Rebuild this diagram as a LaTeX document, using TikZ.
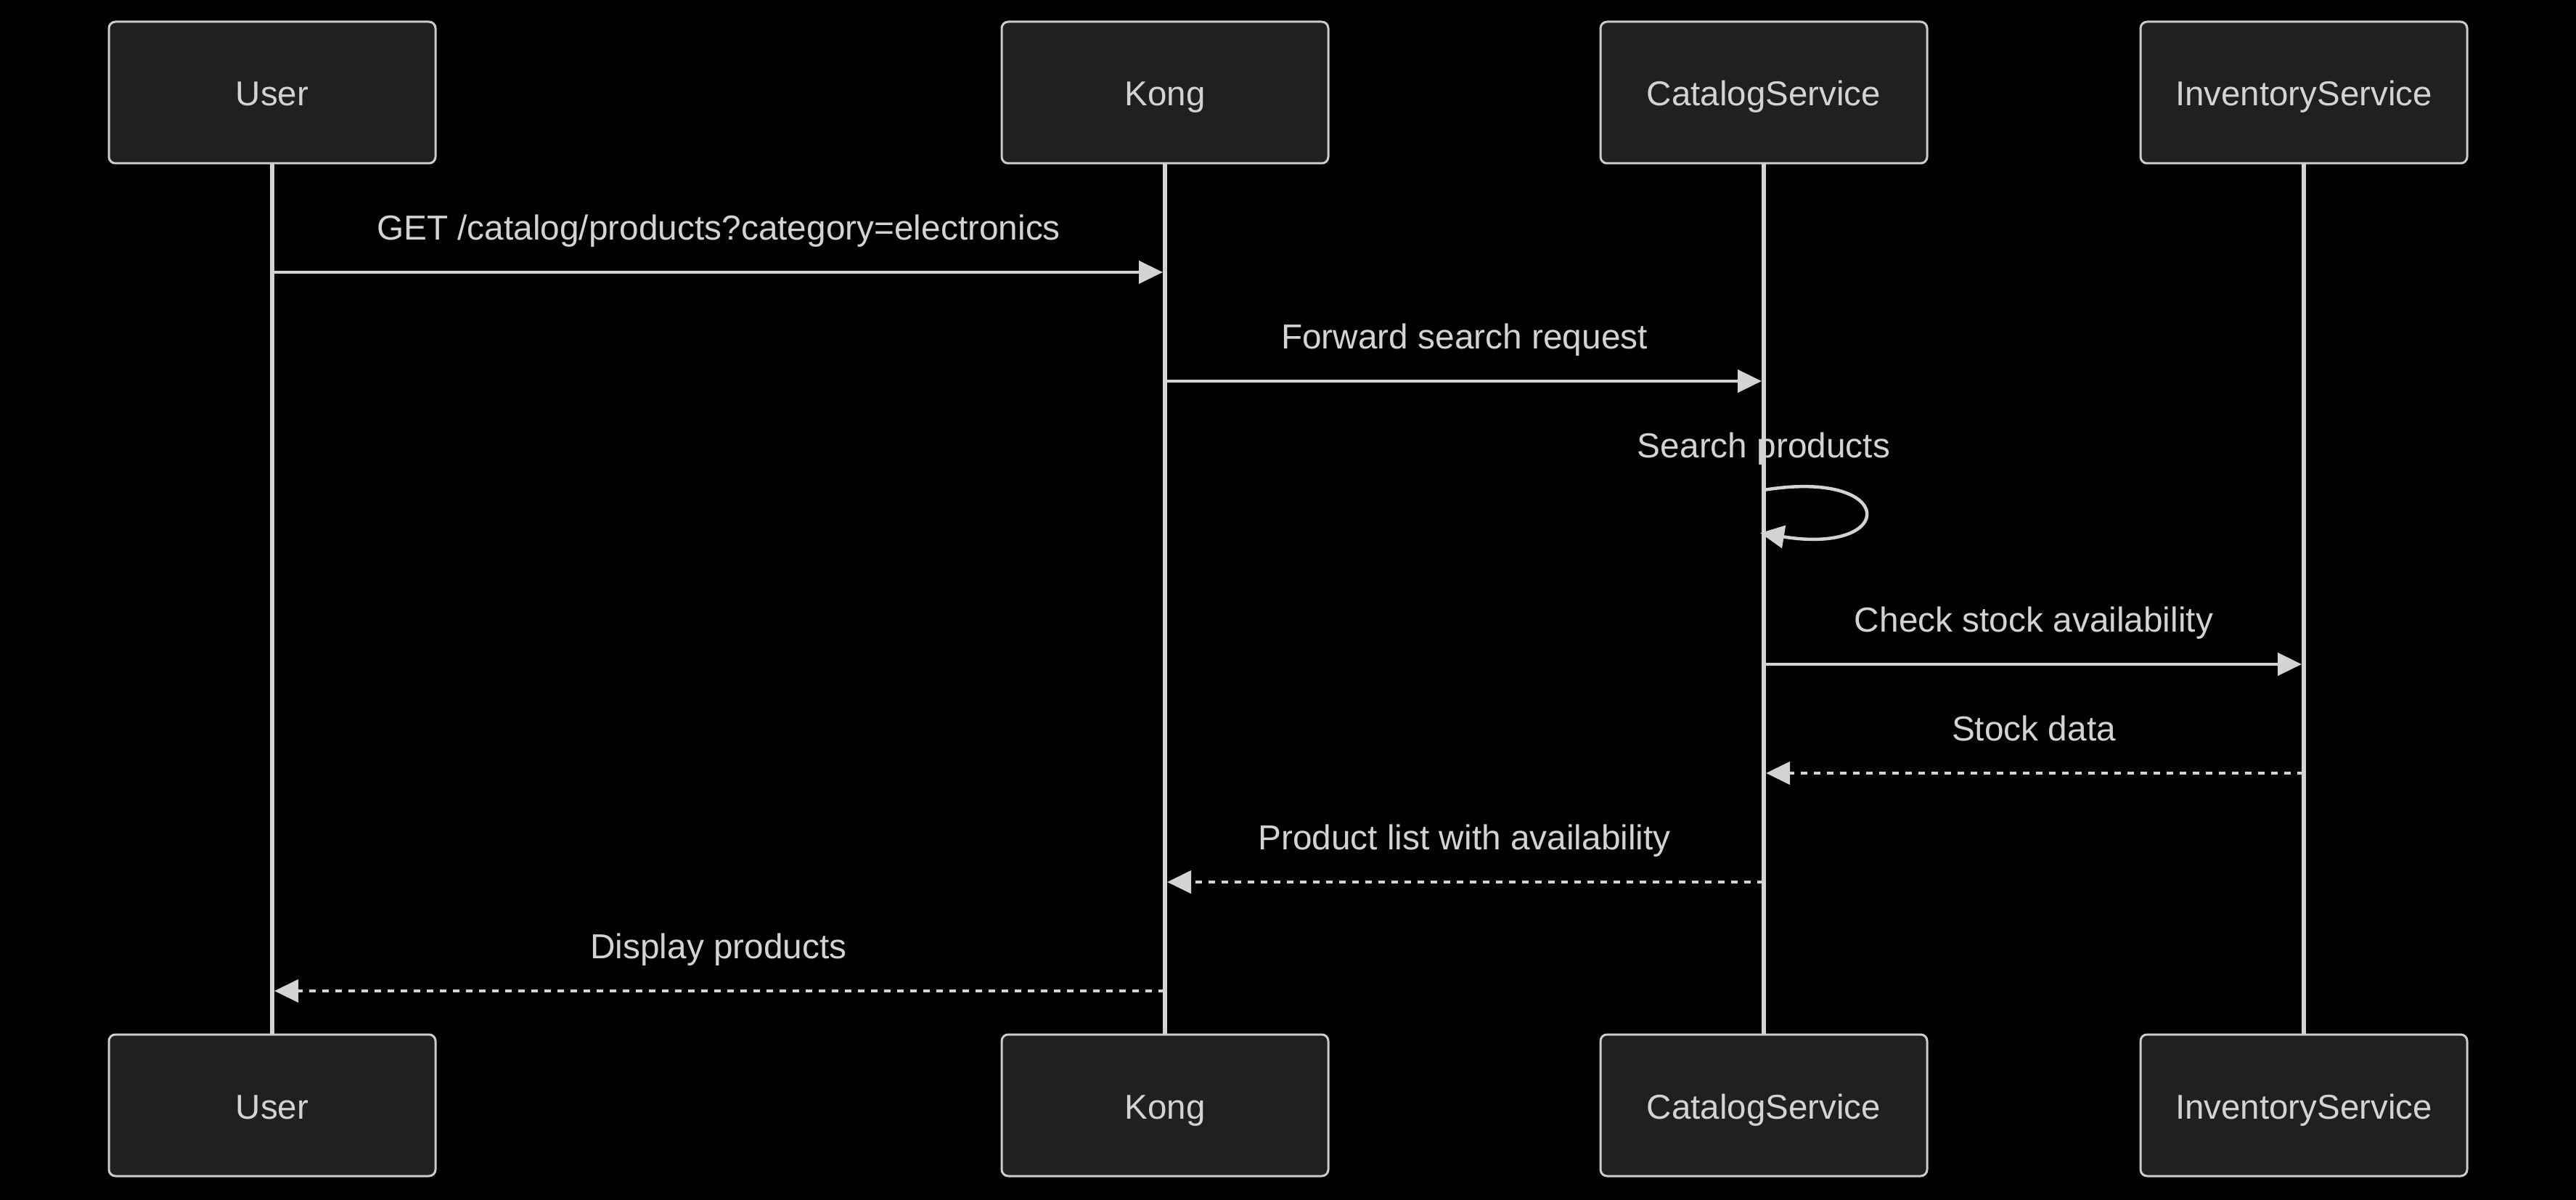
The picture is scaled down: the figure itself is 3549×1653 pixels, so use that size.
\documentclass[tikz,border=0pt]{standalone}
\usepackage{fontspec}
\setmainfont{Liberation Sans}
\usetikzlibrary{arrows.meta}
\definecolor{bgC}{HTML}{000000}
\definecolor{boxC}{HTML}{1F2020}
\definecolor{borderC}{HTML}{CCCCCC}
\definecolor{lineC}{HTML}{D3D3D3}
\definecolor{txtC}{HTML}{D3D3D3}
\tikzset{
  actor/.style={draw=borderC, fill=boxC, line width=3pt, rounded corners=9pt,
    minimum width=450pt, minimum height=195pt, inner sep=0pt,
    text=txtC, font=\fontsize{47.5}{57}\selectfont, text height=37pt, text depth=0pt},
  lifeline/.style={draw=lineC, line width=6pt},
  msg/.style={draw=lineC, line width=4.5pt, -{Triangle[length=33pt,width=31pt]}, shorten >=3pt},
  reply/.style={msg, dash pattern=on 9pt off 9pt},
  lbl/.style={midway, anchor=base, yshift=44.5pt, text=txtC, font=\fontsize{47.8}{57}\selectfont, inner sep=0pt},
}
\begin{document}
\begin{tikzpicture}[x=1pt,y=-1pt]
\useasboundingbox (0,0) rectangle (3549,1653);
\fill[bgC] (0,0) rectangle (3549,1653);
% top actors
\node[actor] (user) at (375,127.5) {User};
\node[actor] (kong) at (1605,127.5) {Kong};
\node[actor] (cat)  at (2430,127.5) {CatalogService};
\node[actor] (inv)  at (3174,127.5) {InventoryService};
% bottom actors
\node[actor] (userb) at (375,1522.5) {User};
\node[actor] (kongb) at (1605,1522.5) {Kong};
\node[actor] (catb)  at (2430,1522.5) {CatalogService};
\node[actor] (invb)  at (3174,1522.5) {InventoryService};
% lifelines
\draw[lifeline] (user.south) -- (userb.north);
\draw[lifeline] (kong.south) -- (kongb.north);
\draw[lifeline] (cat.south) -- (catb.north);
\draw[lifeline] (inv.south) -- (invb.north);
% message rows
\coordinate (r1) at (0,375);
\coordinate (r2) at (0,525);
\coordinate (r3) at (0,675);
\coordinate (r3b) at (0,735);
\coordinate (r4) at (0,915);
\coordinate (r5) at (0,1065);
\coordinate (r6) at (0,1215);
\coordinate (r7) at (0,1365);
% messages
\draw[msg] (user |- r1) -- (kong |- r1) node[lbl] {GET /catalog/products?category=electronics};
\draw[msg] (kong |- r2) -- (cat |- r2) node[lbl] {Forward search request};
\draw[msg, shorten >=-5pt] (cat |- r3) .. controls +(185,-30) and +(185,30) .. (cat |- r3b);
\node[anchor=base, text=txtC, font=\fontsize{47.8}{57}\selectfont, inner sep=0pt] (selflbl) at ([yshift=44.5pt]cat |- r3) {Search products};
\draw[msg] (cat |- r4) -- (inv |- r4) node[lbl] {Check stock availability};
\draw[reply] (inv |- r5) -- (cat |- r5) node[lbl] {Stock data};
\draw[reply] (cat |- r6) -- (kong |- r6) node[lbl] {Product list with availability};
\draw[reply] (kong |- r7) -- (user |- r7) node[lbl] {Display products};
\end{tikzpicture}
\end{document}
